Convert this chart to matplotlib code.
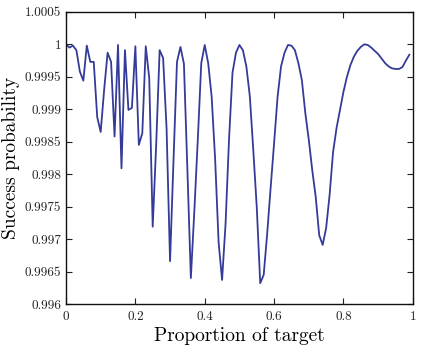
import numpy as np
import matplotlib
matplotlib.use("Agg")
import matplotlib.pyplot as plt
from matplotlib.ticker import FuncFormatter, MultipleLocator

proportion = [i / 100 for i in range(100)]
success = [
    1.00000, 0.99995, 0.99998, 0.99991, 0.99958, 0.99944, 0.99998, 0.99973, 0.99973, 0.99888,
    0.99865, 0.99930, 0.99987, 0.99973, 0.99858, 0.99999, 0.99809, 0.99991, 0.99899, 0.99902,
    0.99997, 0.99845, 0.99863, 0.99997, 0.99948, 0.99719, 0.99845, 0.99991, 0.99979, 0.99870,
    0.99666, 0.99822, 0.99973, 0.99996, 0.99970, 0.99807, 0.99640, 0.99743, 0.99853, 0.99971,
    0.99999, 0.99971, 0.99919, 0.99823, 0.99695, 0.99637, 0.99723, 0.99853, 0.99956, 0.99987,
    0.99999, 0.99991, 0.99966, 0.99920, 0.99837, 0.99749, 0.99632, 0.99645, 0.99708, 0.99779,
    0.99848, 0.99919, 0.99966, 0.99987, 0.99999, 0.99998, 0.99991, 0.99971, 0.99945, 0.99894,
    0.99853, 0.99806, 0.99765, 0.99706, 0.99691, 0.99717, 0.99768, 0.99834, 0.99871, 0.99899,
    0.99927, 0.99950, 0.99968, 0.99981, 0.99990, 0.99996, 1.00000, 0.99999, 0.99995, 0.99990,
    0.99985, 0.99978, 0.99971, 0.99966, 0.99963, 0.99962, 0.99962, 0.99965, 0.99975, 0.99984,
]

plt.rcParams['font.family'] = ['cmr10', 'DejaVu Serif']
plt.rcParams['axes.formatter.use_mathtext'] = True

fig = plt.figure(figsize=(4.23, 3.49), dpi=100)
ax = fig.add_axes([0.156, 0.129, 0.820, 0.837])
ax.plot(proportion, success, color='#353b98', lw=1.3)

ax.set_xlim(0, 1)
ax.set_ylim(0.996, 1.0005)
ax.xaxis.set_major_locator(MultipleLocator(0.2))
ax.yaxis.set_major_locator(MultipleLocator(0.0005))

def fmt(v, pos):
    s = f"{v:.4f}".rstrip('0').rstrip('.')
    return s

ax.xaxis.set_major_formatter(FuncFormatter(fmt))
ax.yaxis.set_major_formatter(FuncFormatter(fmt))
ax.tick_params(direction='in', top=True, right=True, labelsize=9.5, length=4, width=0.8, colors='#222222')
ax.tick_params(axis='x', pad=5)
for sp in ax.spines.values():
    sp.set_linewidth(1.0)
    sp.set_color('#111111')
ax.set_xlabel('Proportion of target', fontsize=14, labelpad=3)
ax.set_ylabel('Success probability', fontsize=14, labelpad=3)

fig.savefig('out.png', dpi=100)
